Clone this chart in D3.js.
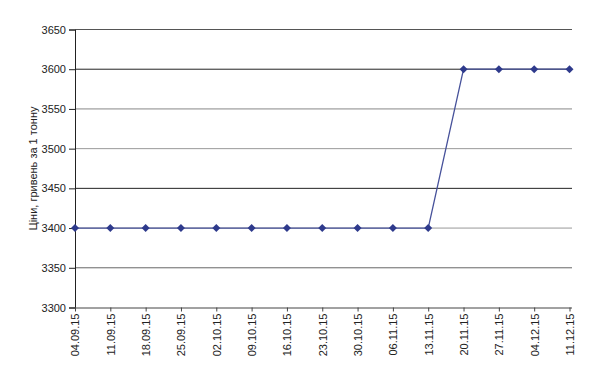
<!DOCTYPE html>
<html><head><meta charset="utf-8">
<script src="https://cdn.jsdelivr.net/npm/d3@7"></script>
<style>body{margin:0;background:#fff}svg{display:block}text{font-family:"Liberation Sans",Arial,sans-serif;fill:#222}</style>
</head><body>
<svg id="c" width="590" height="381"></svg>
<script>
const categories = ["04.09.15","11.09.15","18.09.15","25.09.15","02.10.15","09.10.15","16.10.15","23.10.15","30.10.15","06.11.15","13.11.15","20.11.15","27.11.15","04.12.15","11.12.15"];
const prices = [3400,3400,3400,3400,3400,3400,3400,3400,3400,3400,3400,3600,3600,3600,3600];
const yTicks = [3300,3350,3400,3450,3500,3550,3600,3650];
const yLabel = "Ціни, гривень за 1 тонну";

const svg = d3.select("#c");
const L = 75, R = 572, T = 29.5, B = 307.5;
const x = d3.scalePoint().domain(categories).range([L, 569.5]);
const y = d3.scaleLinear().domain([3300, 3650]).range([B, T]);
const gridCol = {3350:"#666",3400:"#999",3450:"#222",3500:"#999",3550:"#888",3600:"#222",3650:"#555"};

// gridlines
svg.append("g").selectAll("line").data(yTicks.filter(d => d > 3300)).join("line")
  .attr("x1", L).attr("x2", R).attr("y1", d => y(d)).attr("y2", d => y(d))
  .attr("stroke", d => gridCol[d]).attr("stroke-width", 1);

// y axis
const ya = svg.append("g").attr("transform", `translate(${L},0)`)
  .call(d3.axisLeft(y).tickValues(yTicks).tickSize(6).tickPadding(3).tickFormat(d3.format("d")));
ya.select(".domain").attr("stroke", "#222");
ya.selectAll(".tick line").attr("stroke", "#222");
ya.selectAll("text").attr("font-size", 11).attr("fill", "#222").style("font-family", "'Liberation Sans',Arial,sans-serif");

// x axis
const xa = svg.append("g").attr("transform", `translate(0,${B})`)
  .call(d3.axisBottom(x).tickSize(4).tickSizeOuter(0).tickPadding(4));
xa.select(".domain").attr("stroke", "#444").attr("d", `M${L},0.5H${R}`);
xa.selectAll(".tick line").attr("stroke", "#444");
xa.selectAll("text").attr("font-size", 11).attr("fill", "#222")
  .style("font-family", "'Liberation Sans',Arial,sans-serif")
  .attr("transform", "rotate(-90)").attr("text-anchor", "end")
  .attr("x", -6).attr("y", 0).attr("dy", "0.35em");

// line
svg.append("path").datum(prices)
  .attr("fill", "none").attr("stroke", "#46519a").attr("stroke-width", 1.3)
  .attr("d", d3.line().x((d, i) => x(categories[i])).y(d => y(d)));

// markers (square diamonds)
svg.append("g").selectAll("path").data(prices).join("path")
  .attr("transform", (d, i) => `translate(${x(categories[i])},${y(d)})`)
  .attr("d", "M0,-4L4,0L0,4L-4,0Z")
  .attr("fill", "#2e3a8c");

// y label
svg.append("text").attr("transform", `translate(37,${(T + B) / 2}) rotate(-90)`)
  .attr("text-anchor", "middle").attr("font-size", 11).attr("fill", "#222").text(yLabel);
</script>
</body></html>
